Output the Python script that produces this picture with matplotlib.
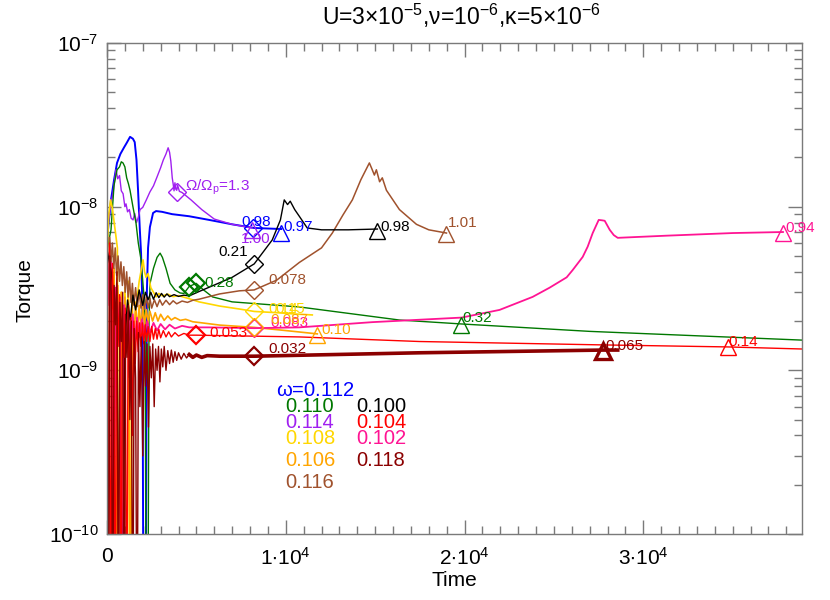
import numpy as np
import matplotlib
matplotlib.use("Agg")
import matplotlib.pyplot as plt
from matplotlib.ticker import FixedLocator, MultipleLocator, LogLocator, NullFormatter, FixedFormatter

plt.rcParams['font.family'] = ['Liberation Sans Narrow', 'Liberation Sans', 'DejaVu Sans']
plt.rcParams['mathtext.default'] = 'regular'

# ---------------- data (time, torque in units of 1e-9) ----------------
t_112 = [0, 224, 392, 560, 750, 952, 1100, 1290, 1450, 1550, 1650, 1737, 1830, 1905, 1980, 2050,
         2150, 2230, 2297, 2400, 2577, 2745, 3081, 3641, 4594, 5714, 7003, 8235, 9748]
q_112 = [6.26, 11.0, 14.5, 18.5, 21.0, 23.0, 24.5, 26.7, 26.0, 24.8, 19.3, 12.6, 7.5, 5.2, 2.5, 0.01,
         0.01, 3.0, 5.6, 7.5, 9.15, 9.4, 9.3, 9.0, 8.74, 8.3, 7.8, 7.41, 7.3]

t_114 = [0, 224, 336, 504, 600, 700, 800, 900, 1000, 1064, 1150, 1250, 1350, 1457, 1550, 1650,
         1750, 1849, 2000, 2200, 2400, 2600, 2800, 3000, 3150, 3300, 3420, 3500, 3570, 3650,
         3700, 3750, 3800, 3850, 3900, 3950, 4050, 4200, 4700, 5300, 6000, 7000, 8120]
q_114 = [7.22, 10.5, 12.1, 16.8, 14.8, 15.5, 12.5, 12.0, 10.0, 10.4, 9.3, 9.6, 8.5, 8.3, 9.1, 8.0,
         8.6, 9.6, 9.9, 11.0, 12.3, 13.4, 15.2, 17.3, 19.3, 21.0, 22.9, 21.5, 19.0, 15.0,
         13.8, 12.5, 14.0, 12.8, 12.6, 13.5, 12.4, 12.2, 11.0, 9.6, 8.4, 7.8, 7.41]

t_110 = [0, 224, 392, 560, 700, 800, 896, 1000, 1100, 1200, 1288, 1450, 1625, 1750, 1905, 2050,
         2129, 2200, 2280, 2350, 2409, 2600, 2800, 2970, 3100, 3300, 3530, 3800, 4089, 4300,
         4594, 4986, 5400, 5900, 7000, 10750, 16350, 19830, 27000, 38878]
q_110 = [5.44, 7.22, 13.5, 16.8, 17.5, 18.8, 18.5, 17.5, 15.0, 13.8, 12.6, 10.0, 7.9, 6.0, 4.73, 3.0,
         2.1, 0.01, 0.01, 2.0, 3.4, 4.2, 4.9, 5.2, 4.9, 4.2, 3.4, 3.1, 2.97, 2.95,
         3.25, 3.4, 3.1, 2.81, 2.62, 2.44, 2.03, 1.92, 1.73, 1.53]

t_100 = [0, 224, 392, 560, 700, 850, 1000, 1150, 1300, 1450, 1600, 1800, 2000, 2150, 2300, 2450,
         2600, 2750, 2900, 3050, 3200, 3350, 3500, 3750, 4000, 4300, 4600, 5150, 6000, 7000,
         8235, 9243, 9700, 9915, 10100, 10250, 10500, 10756, 11200, 12000, 13500, 15125]
q_100 = [5.44, 4.1, 2.69, 1.77, 0.01, 0.01, 1.53, 2.69, 2.03, 2.88, 2.34, 3.1, 2.5, 3.0, 2.7, 3.0,
         2.72, 2.98, 2.78, 2.95, 2.8, 2.93, 2.82, 2.9, 2.83, 2.88, 2.85, 3.03, 3.32, 3.7,
         4.47, 6.26, 8.3, 11.0, 10.3, 10.8, 9.6, 8.74, 7.41, 7.22, 7.22, 7.3]

t_116 = [0, 60, 140, 220, 300, 380, 460, 540, 620, 700, 780, 860, 940, 1020, 1100, 1180,
         1260, 1340, 1420, 1500, 1600, 1700, 1800, 1900, 2000, 2100, 2200, 2300, 2400, 2500,
         2650, 2800, 2950, 3100, 3300, 3500, 3700, 3900, 4200, 4500, 4800, 5150, 6300, 7400,
         8235, 9500, 10756, 12000, 12604, 13200, 13725, 14200, 14677, 14800, 14957, 15069,
         15250, 15400, 15630, 16358, 17310, 18000, 18990]
q_116 = [8.9, 0.01, 6.5, 4.6, 6.0, 4.2, 5.6, 3.8, 5.0, 3.5, 4.6, 3.3, 4.3, 3.0, 4.0, 2.8,
         3.7, 2.6, 3.4, 2.5, 3.2, 2.45, 3.0, 2.4, 2.9, 2.35, 2.8, 2.4, 2.75, 2.4,
         2.7, 2.45, 2.7, 2.5, 2.68, 2.52, 2.66, 2.55, 2.65, 2.6, 2.68, 2.72, 2.93, 3.06,
         3.1, 3.56, 4.56, 5.6, 6.9, 8.9, 11.0, 14.6, 18.5, 17.2, 15.6, 16.8,
         14.2, 15.0, 12.6, 9.6, 7.8, 7.22, 6.9]

t_108 = [0, 100, 200, 300, 400, 500, 580, 650, 720, 800, 900, 1000, 1100, 1200, 1300, 1400,
         1625, 1800, 2017, 2100, 2185, 2300, 2450, 2600, 2745, 2900, 3100, 3400, 3700, 4000,
         4600, 5150, 6300, 7400, 8235, 9500, 10500, 11484]
q_108 = [4.7, 9.0, 11.0, 9.8, 8.0, 6.6, 5.6, 0.01, 0.01, 3.0, 0.01, 3.2, 1.5, 3.5, 0.01, 3.0,
         2.44, 3.5, 4.73, 4.0, 3.7, 3.9, 3.2, 3.0, 2.81, 2.95, 2.85, 2.92, 2.82, 2.86,
         2.74, 2.62, 2.47, 2.37, 2.29, 2.25, 2.21, 2.18]

t_106 = [0, 100, 200, 300, 400, 500, 600, 700, 800, 900, 1000, 1100, 1200, 1300, 1400, 1500,
         1600, 1700, 1800, 1900, 2000, 2100, 2200, 2300, 2400, 2550, 2700, 2850, 3000, 3200,
         3400, 3600, 3800, 4100, 4400, 4800, 5150, 6300, 8235, 10000, 11764]
q_106 = [7.2, 3.0, 5.4, 2.4, 4.2, 0.01, 3.3, 1.8, 3.0, 0.01, 2.8, 1.6, 2.7, 0.01, 2.6, 1.5,
         2.6, 1.7, 2.5, 1.8, 2.45, 1.9, 2.35, 1.95, 2.3, 2.0, 2.25, 2.0, 2.2, 2.02,
         2.15, 2.03, 2.1, 2.02, 2.05, 1.98, 1.96, 1.89, 1.83, 1.75, 1.67]

t_102 = [0, 120, 240, 360, 480, 600, 720, 840, 960, 1080, 1200, 1320, 1440, 1560, 1680, 1800,
         1950, 2100, 2250, 2400, 2600, 2800, 3000, 3250, 3500, 3800, 4200, 4600, 5700, 8235,
         10756, 14845, 19831, 21960, 23809, 24761, 25713, 26050, 26610, 26890, 27170, 27506,
         27700, 27842, 28122, 28350, 28570, 31315, 35013, 37814]
q_102 = [6.3, 2.5, 4.6, 0.01, 3.2, 1.6, 2.8, 0.01, 2.5, 1.4, 2.3, 1.2, 2.2, 1.5, 2.1, 1.6,
         2.05, 1.65, 2.0, 1.7, 1.95, 1.75, 1.92, 1.78, 1.9, 1.8, 1.87, 1.83, 1.83, 1.81,
         1.83, 1.97, 2.1, 2.34, 2.81, 3.2, 3.7, 4.1, 4.93, 5.7, 6.9, 8.3,
         8.25, 8.2, 7.22, 6.7, 6.45, 6.65, 6.9, 7.0]

t_104 = [0, 60, 140, 220, 300, 380, 460, 540, 620, 700, 780, 860, 940, 1020, 1100, 1180,
         1260, 1340, 1420, 1500, 1580, 1660, 1740, 1820, 1900, 1980, 2060, 2140, 2220, 2300,
         2400, 2500, 2600, 2700, 2800, 2900, 3000, 3150, 3300, 3450, 3600, 3800, 4000, 4300,
         4600, 4986, 10756, 17478, 27730, 34732, 38878]
q_104 = [11.0, 0.01, 6.0, 0.01, 4.5, 2.2, 0.01, 3.4, 1.4, 2.9, 0.01, 2.6, 1.2, 2.4, 0.01, 2.2,
         0.9, 2.1, 0.4, 2.0, 1.1, 2.0, 1.3, 1.95, 1.4, 1.95, 1.45, 1.9, 1.5, 1.85,
         1.5, 1.85, 1.55, 1.8, 1.55, 1.78, 1.58, 1.75, 1.6, 1.72, 1.6, 1.7, 1.62, 1.68,
         1.64, 1.64, 1.6, 1.5, 1.43, 1.39, 1.35]

t_118 = [0, 80, 160, 240, 320, 400, 480, 560, 640, 720, 800, 880, 960, 1040, 1120, 1200,
         1280, 1360, 1440, 1520, 1600, 1680, 1760, 1840, 1920, 2000, 2080, 2160, 2240, 2320,
         2400, 2480, 2560, 2640, 2720, 2800, 2880, 2960, 3040, 3120, 3200, 3300, 3400, 3500,
         3600, 3700, 3800, 3900, 4000, 4150, 4300, 4450, 4600, 4800, 5000, 5300, 5600, 6300,
         7400, 8235, 17478, 27730, 28570]
q_118 = [8.3, 0.01, 5.0, 3.0, 0.01, 3.3, 1.9, 4.0, 0.01, 2.6, 1.5, 3.0, 0.01, 2.2, 1.2, 2.5,
         0.5, 2.0, 0.01, 1.8, 0.9, 0.01, 1.7, 0.6, 1.6, 0.3, 1.5, 0.8, 1.45, 0.45,
         1.4, 0.9, 1.45, 0.6, 1.35, 1.0, 1.4, 0.85, 1.35, 1.05, 1.4, 1.0, 1.32, 1.1,
         1.33, 1.12, 1.3, 1.15, 1.28, 1.17, 1.27, 1.19, 1.25, 1.2, 1.24, 1.2, 1.23, 1.22,
         1.22, 1.22, 1.28, 1.33, 1.33]

# markers: (series, time, torque e-9, label)
diamond_series = ['114', '112', '110', '110', '100', '116', '108', '102', '106', '104', '118']
diamond_t = [3921, 8150, 4594, 4986, 8235, 8235, 8235, 8235, 8235, 4986, 8235]
diamond_q = [12.3, 7.41, 3.25, 3.4, 4.47, 3.1, 2.29, 1.81, 1.83, 1.64, 1.22]
diamond_labels = [r'$\Omega/\Omega_p$=1.3', '0.98', '', '0.28', '0.21', '0.078', '0.14', '0.083',
                  '0.087', '0.053', '0.032']

tri_series = ['114', '112', '100', '116', '110', '106', '118', '104', '102']
tri_t = [8120, 9748, 15125, 18990, 19830, 11764, 27730, 34732, 37814]
tri_q = [7.2, 6.9, 7.1, 6.8, 1.90, 1.65, 1.32, 1.38, 6.9]
tri_labels = ['1.00', '0.97', '0.98', '1.01', '0.32', '0.10', '0.065', '0.14', '0.94']

legend_left = ['0.110', '0.114', '0.108', '0.106', '0.116']
legend_right = ['0.100', '0.104', '0.102', '0.118']

x_tick_vals = [0, 10000, 20000, 30000]
x_tick_labels = ['0', r'1$\bullet$10$^4$', r'2$\bullet$10$^4$', r'3$\bullet$10$^4$']
y_tick_vals = [1e-10, 1e-9, 1e-8, 1e-7]
y_tick_labels = ['10$^{-10}$', '10$^{-9}$', '10$^{-8}$', '10$^{-7}$']

# ---------------- styles ----------------
colors = {'112': '#0000FF', '110': '#007800', '100': '#000000', '114': '#A020F0',
          '104': '#FF0000', '108': '#FFD700', '102': '#FF1493', '106': '#FFA500',
          '118': '#8B0000', '116': '#A0522D'}
series = {'112': (t_112, q_112), '114': (t_114, q_114), '110': (t_110, q_110),
          '100': (t_100, q_100), '116': (t_116, q_116), '108': (t_108, q_108),
          '106': (t_106, q_106), '102': (t_102, q_102), '104': (t_104, q_104),
          '118': (t_118, q_118)}
order = ['112', '114', '110', '108', '106', '102', '116', '100', '104', '118']
lws = {'112': 1.4, '114': 1.0, '110': 1.0, '100': 1.0, '116': 1.1, '108': 1.2,
       '106': 1.2, '102': 1.3, '104': 1.0, '118': 1.0}

fig = plt.figure(figsize=(8.3, 6.0), dpi=100)
ax = fig.add_axes([107/830, 1-534/600, (802-107)/830, (534-43)/600])

for k in order:
    t, q = series[k]
    t = np.array(t, float); q = np.array(q, float) * 1e-9
    ax.plot(t, q, color=colors[k], lw=lws[k], zorder=2)
    if k == '118':
        m = t >= 4600
        ax.plot(t[m], q[m], color=colors[k], lw=2.6, zorder=2.1)

px = 100/72.0
d_off = {0: (8, 5, 'left'), 1: (-11, 6, 'left'), 2: (0, 0, 'left'), 3: (8, 0, 'left'),
         4: (-6, 12, 'right'), 5: (14, 10, 'left'), 6: (14, 2, 'left'), 7: (16, 5, 'left'),
         8: (16, 7, 'left'), 9: (13, 2, 'left'), 10: (14, 7, 'left')}
for i, (s, t, q, lab) in enumerate(zip(diamond_series, diamond_t, diamond_q, diamond_labels)):
    c = colors[s]
    mew = 1.6 if s in ('104', '118', '110') else 1.0
    ax.plot([t], [q*1e-9], marker='D', ms=9.5, mfc='none', mec=c, mew=mew, zorder=3)
    dx, dy, ha = d_off[i]
    if lab:
        ax.annotate(lab, (t, q*1e-9), xytext=(dx/px, dy/px), textcoords='offset points',
                    ha=ha, va='center', color=c, fontsize=11, zorder=4)
# extra overlapping gold label
ax.annotate('0.15', (8235, 2.29e-9), xytext=(21/px, 2/px), textcoords='offset points',
            ha='left', va='center', color=colors['108'], fontsize=11, zorder=4)

t_off = {0: (-11, -9, 'left'), 1: (2, 6, 'left'), 2: (3, 4, 'left'), 3: (1, 11, 'left'),
         4: (1, 7, 'left'), 5: (4, 5, 'left'), 6: (3, 5, 'left'), 7: (0, 5, 'left'),
         8: (2, 5, 'left')}
for i, (s, t, q, lab) in enumerate(zip(tri_series, tri_t, tri_q, tri_labels)):
    c = colors[s]
    mew = 2.4 if s == '118' else 1.0
    ax.plot([t], [q*1e-9], marker='^', ms=11.5, mfc='none', mec=c, mew=mew, zorder=3)
    dx, dy, ha = t_off[i]
    ax.annotate(lab, (t, q*1e-9), xytext=(dx/px, dy/px), textcoords='offset points',
                ha=ha, va='center', color=c, fontsize=11, zorder=4)

# legend text block
fs_leg = 14.5
fig.text(276/830, 1-390/600, r'$\omega$=0.112', color=colors['112'], fontsize=fs_leg, va='center', ha='left')
left_keys = ['110', '114', '108', '106', '116']
right_keys = ['100', '104', '102', '118']
ys = [406, 422, 438, 460, 482]
for lab, k, y in zip(legend_left, left_keys, ys):
    fig.text(285/830, 1-y/600, lab, color=colors[k], fontsize=fs_leg, va='center', ha='left')
for lab, k, y in zip(legend_right, right_keys, ys[:4]):
    fig.text(356/830, 1-y/600, lab, color=colors[k], fontsize=fs_leg, va='center', ha='left')

ax.set_yscale('log')
ax.set_xlim(0, 38878)
ax.set_ylim(1e-10, 1e-7)

frame_c = '#7a7a7a'
for sp in ax.spines.values():
    sp.set_color(frame_c)
    sp.set_linewidth(1.0)

ax.xaxis.set_major_locator(FixedLocator(x_tick_vals))
ax.xaxis.set_major_formatter(FixedFormatter(x_tick_labels))
ax.xaxis.set_minor_locator(MultipleLocator(1000))
ax.yaxis.set_major_locator(FixedLocator(y_tick_vals))
ax.yaxis.set_major_formatter(FixedFormatter(y_tick_labels))
ax.yaxis.set_minor_locator(LogLocator(base=10, subs=np.arange(2, 10)))
ax.yaxis.set_minor_formatter(NullFormatter())

ax.tick_params(which='both', direction='in', top=True, right=True, color=frame_c, width=1.0,
               labelsize=15)
ax.tick_params(which='major', length=10)
ax.tick_params(which='minor', length=5.5)
ax.tick_params(axis='x', which='major', pad=9)
ax.tick_params(axis='y', which='major', pad=6)

fig.text(454/830, 1-580/600, 'Time', fontsize=15, ha='center', va='center')
fig.text(25/830, 1-290/600, 'Torque', fontsize=15, ha='center', va='center', rotation=90)
fig.text(461/830, 1-16/600, r'U=3$\times$10$^{-5}$,$\nu$=10$^{-6}$,$\kappa$=5$\times$10$^{-6}$',
         fontsize=16.5, ha='center', va='center')

fig.savefig('out.png', dpi=100)
